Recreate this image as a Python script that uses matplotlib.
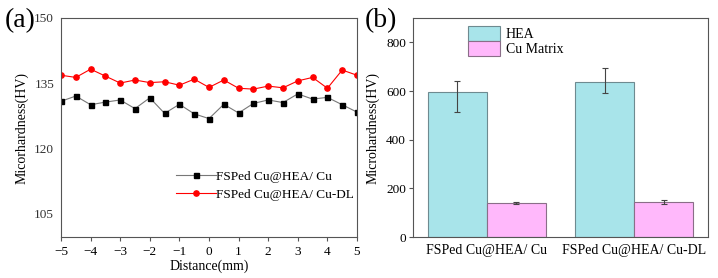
import numpy as np
import matplotlib.pyplot as plt

plt.rcParams['font.family'] = ['Liberation Serif', 'DejaVu Serif']

# panel (a) data
dist = [-5, -4.5, -4, -3.5, -3, -2.5, -2, -1.5, -1, -0.5, 0,
        0.5, 1, 1.5, 2, 2.5, 3, 3.5, 4, 4.5, 5]
hv_cu = [130.8, 132.0, 130.0, 130.6, 131.1, 129.1, 131.6, 128.0, 130.1, 127.9, 126.8,
         130.1, 128.1, 130.3, 131.1, 130.5, 132.5, 131.3, 131.7, 130.0, 128.3]
hv_dl = [136.8, 136.3, 138.2, 136.6, 135.0, 135.7, 135.1, 135.3, 134.5, 135.9, 134.0,
         135.7, 133.8, 133.6, 134.3, 133.9, 135.5, 136.3, 133.8, 138.0, 136.8]

# panel (b) data
groups = ['FSPed Cu@HEA/ Cu', 'FSPed Cu@HEA/ Cu-DL']
hea = [597, 639]
hea_err_lo = [83, 46]
hea_err_hi = [43, 55]
cum = [140, 144]
cum_err = [4, 10]

fig = plt.figure(figsize=(7.18, 2.78), dpi=100)
ax1 = fig.add_axes([61/718, 1-237/278, 296/718, 219/278])
ax2 = fig.add_axes([413/718, 1-237/278, 295/718, 219/278])

spine_c = '#555555'
fs = 10
tfs = 9.5

ax1.plot(dist, hv_cu, color='#777777', lw=0.8, marker='s', ms=3.6,
         mfc='black', mec='black', label='FSPed Cu@HEA/ Cu')
ax1.plot(dist, hv_dl, color='red', lw=0.8, marker='o', ms=3.8,
         mfc='red', mec='red', label='FSPed Cu@HEA/ Cu-DL')
ax1.set_xlim(-5, 5)
ax1.set_ylim(99.5, 150)
ax1.set_xticks(np.arange(-5, 6, 1))
ax1.set_xticklabels(['\u22125', '\u22124', '\u22123', '\u22122', '\u22121', '0', '1', '2', '3', '4', '5'])
ax1.set_yticks([105, 120, 135, 150])
ax1.tick_params(axis='y', length=0, labelsize=tfs, pad=5, colors='#333333')
ax1.tick_params(axis='x', length=3, labelsize=tfs, direction='out', color=spine_c)
ax1.set_xlabel('Distance(mm)', fontsize=fs, labelpad=1)
ax1.set_ylabel('Micorhardness(HV)', fontsize=fs, labelpad=4)
ax1.legend(loc='lower right', bbox_to_anchor=(1.015, 0.13), frameon=False, fontsize=9.5,
           handlelength=3.0, handletextpad=0.0, labelspacing=0.4, borderaxespad=0.2)
for s in ax1.spines.values():
    s.set_color(spine_c)
ax1.text(-0.19, 0.99, '(a)', transform=ax1.transAxes, fontsize=20, va='center', ha='left')

x = np.arange(len(groups))
w = 0.4
ax2.bar(x - w/2, hea, w, color='#a8e4ea', edgecolor='#6e8a90', lw=0.8, label='HEA',
        yerr=[hea_err_lo, hea_err_hi], ecolor='#444444', capsize=2.5,
        error_kw=dict(elinewidth=0.8, capthick=0.8))
ax2.bar(x + w/2, cum, w, color='#ffb8fb', edgecolor='#8a6e88', lw=0.8, label='Cu Matrix',
        yerr=cum_err, ecolor='#444444', capsize=2.5,
        error_kw=dict(elinewidth=0.8, capthick=0.8))
ax2.set_xlim(-0.5, 1.5)
ax2.set_ylim(0, 900)
ax2.set_yticks([0, 200, 400, 600, 800])
ax2.set_xticks(x)
ax2.set_xticklabels(groups)
ax2.tick_params(axis='y', length=3, labelsize=tfs, pad=2, color=spine_c)
ax2.tick_params(axis='x', length=0, labelsize=fs, pad=5)
ax2.set_ylabel('Microhardness(HV)', fontsize=fs, labelpad=5)
ax2.legend(loc='upper left', bbox_to_anchor=(0.15, 1.015), frameon=False, fontsize=fs,
           handlelength=2.3, handleheight=1.3, handletextpad=0.4, labelspacing=0.0,
           borderaxespad=0.4)
for s in ax2.spines.values():
    s.set_color(spine_c)
ax2.text(-0.165, 0.99, '(b)', transform=ax2.transAxes, fontsize=20, va='center', ha='left')

fig.savefig('out.png', dpi=100)
